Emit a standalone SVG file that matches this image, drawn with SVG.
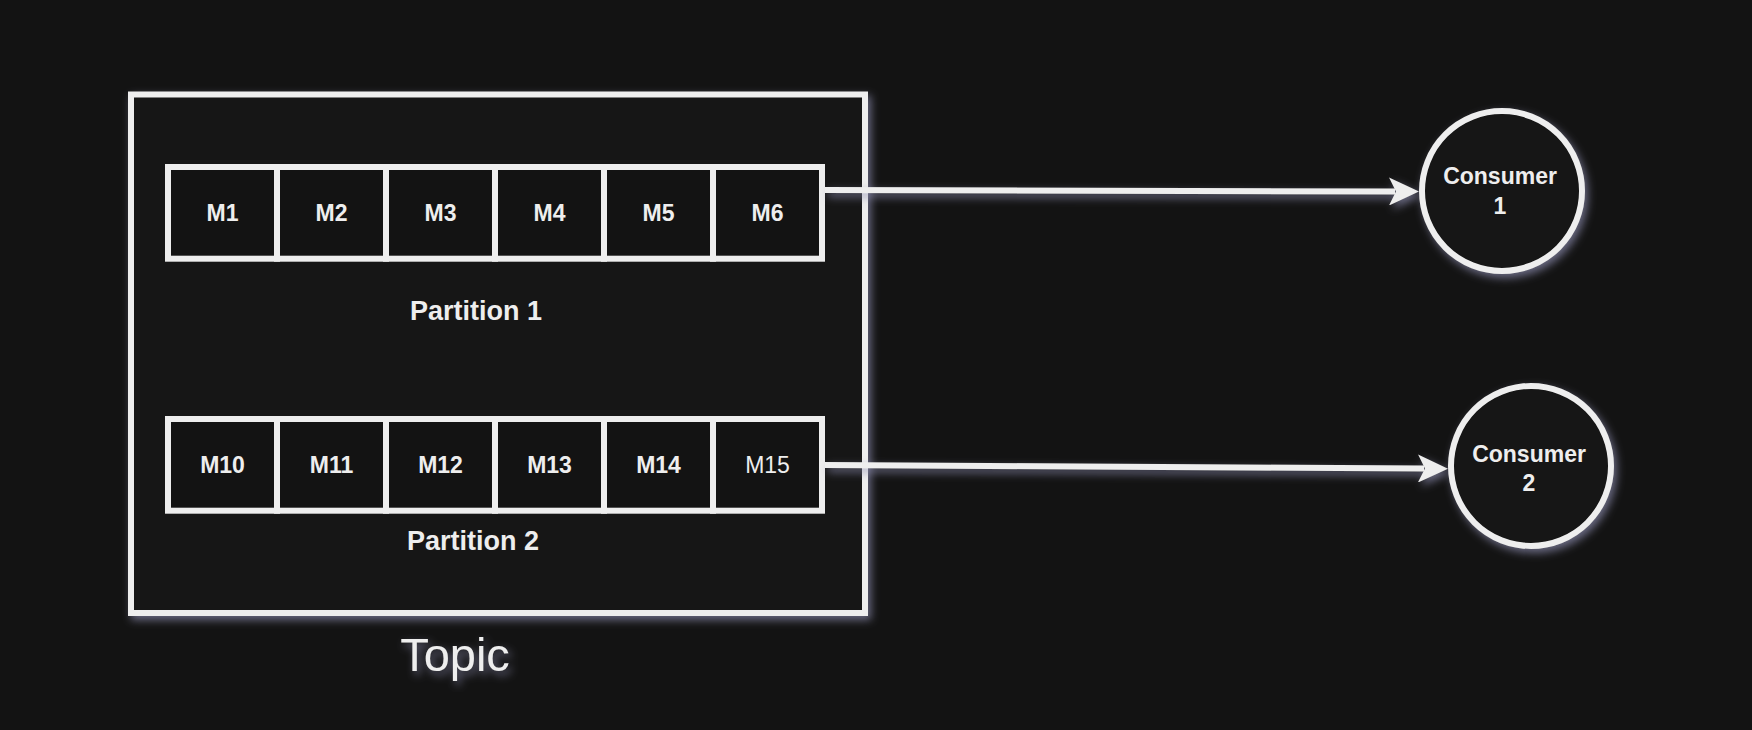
<svg xmlns="http://www.w3.org/2000/svg" width="1752" height="730" viewBox="0 0 1752 730">
  <defs>
    <filter id="glow" x="-20%" y="-20%" width="140%" height="140%">
      <feDropShadow dx="3" dy="4" stdDeviation="4" flood-color="#8e8eb0" flood-opacity="0.7"/>
    </filter>
    <marker id="arrow" markerUnits="userSpaceOnUse" markerWidth="30" markerHeight="28" refX="6" refY="14" orient="auto">
      <path d="M0,0 L30,14 L0,28 L7,14 Z" fill="#eeeeee"/>
    </marker>
    <style>
      .box { fill: #131313; stroke: #eeeeee; stroke-width: 6; }
      .cell { fill: #131313; stroke: #eeeeee; stroke-width: 6; }
      .lbl { font-family: "Liberation Sans", Arial, Helvetica, sans-serif; fill: #eeeeee; text-anchor: middle; }
      .m { font-size: 23px; font-weight: bold; }
      .mr { font-size: 23px; }
      .part { font-size: 27px; font-weight: bold; }
      .cons { font-size: 23px; font-weight: bold; }
      .topic { font-size: 47px; }
      .edge { fill: none; stroke: #eeeeee; stroke-width: 6; marker-end: url(#arrow); }
    </style>
  </defs>
  <rect width="1752" height="730" fill="#131313"/>

  <g id="topic">
    <rect class="box" x="131" y="94.5" width="734" height="518.5" filter="url(#glow)"/>
    <text class="lbl topic" x="455" y="671" filter="url(#glow)">Topic</text>
  </g>

  <g id="partition1">
    <rect class="cell" x="168" y="167" width="109" height="91.7"/>
    <rect class="cell" x="277" y="167" width="109" height="91.7"/>
    <rect class="cell" x="386" y="167" width="109" height="91.7"/>
    <rect class="cell" x="495" y="167" width="109" height="91.7"/>
    <rect class="cell" x="604" y="167" width="109" height="91.7"/>
    <rect class="cell" x="713" y="167" width="109" height="91.7"/>
    <text class="lbl m" x="222.5" y="221">M1</text>
    <text class="lbl m" x="331.5" y="221">M2</text>
    <text class="lbl m" x="440.5" y="221">M3</text>
    <text class="lbl m" x="549.5" y="221">M4</text>
    <text class="lbl m" x="658.5" y="221">M5</text>
    <text class="lbl m" x="767.5" y="221">M6</text>
    <text class="lbl part" x="476" y="320">Partition 1</text>
  </g>

  <g id="partition2">
    <rect class="cell" x="168" y="419" width="109" height="91.7"/>
    <rect class="cell" x="277" y="419" width="109" height="91.7"/>
    <rect class="cell" x="386" y="419" width="109" height="91.7"/>
    <rect class="cell" x="495" y="419" width="109" height="91.7"/>
    <rect class="cell" x="604" y="419" width="109" height="91.7"/>
    <rect class="cell" x="713" y="419" width="109" height="91.7"/>
    <text class="lbl m" x="222.5" y="473">M10</text>
    <text class="lbl m" x="331.5" y="473">M11</text>
    <text class="lbl m" x="440.5" y="473">M12</text>
    <text class="lbl m" x="549.5" y="473">M13</text>
    <text class="lbl m" x="658.5" y="473">M14</text>
    <text class="lbl mr" x="767.5" y="473">M15</text>
    <text class="lbl part" x="473" y="550">Partition 2</text>
  </g>

  <g id="connectors" filter="url(#glow)">
    <path class="edge" d="M825,190 L1395,191.5"/>
    <path class="edge" d="M825,465 L1424,468.5"/>
  </g>

  <g id="consumer1">
    <circle class="box" cx="1502" cy="191" r="80" filter="url(#glow)"/>
    <text class="lbl cons" x="1500" y="184">Consumer</text>
    <text class="lbl cons" x="1500" y="214">1</text>
  </g>

  <g id="consumer2">
    <circle class="box" cx="1531" cy="466" r="80" filter="url(#glow)"/>
    <text class="lbl cons" x="1529" y="462">Consumer</text>
    <text class="lbl cons" x="1529" y="491">2</text>
  </g>
</svg>
